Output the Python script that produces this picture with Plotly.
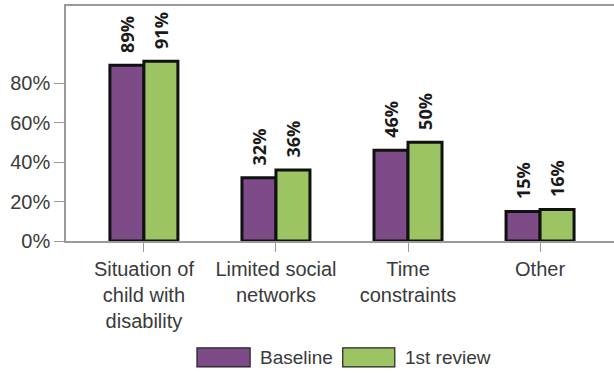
import plotly.graph_objects as go

categories = ["Situation of<br>child with<br>disability", "Limited social<br>networks", "Time<br>constraints", "Other"]
baseline = [89, 32, 46, 15]
first_review = [91, 36, 50, 16]
series_names = ["Baseline", "1st review"]
y_ticks = [0, 20, 40, 60, 80]
y_ticklabels = ["0%", "20%", "40%", "60%", "80%"]

purple = "#7D4B87"
green = "#9CC462"
text_color = "#3a3a3a"
axis_color = "#9a9a9a"

fig = go.Figure()
for name, vals, col in [(series_names[0], baseline, purple), (series_names[1], first_review, green)]:
    fig.add_trace(go.Bar(
        x=list(range(len(categories))), y=vals, name=name,
        marker=dict(color=col, line=dict(color="#111111", width=3)),
        text=["\u00a0\u00a0" + f"{v}%" for v in vals],
        textposition="outside", textangle=-90, cliponaxis=False,
        constraintext="none",
        textfont=dict(family="Open Sans", size=18, color="#1a1a1a", weight="bold"),
        showlegend=False, hoverinfo="skip",
    ))

fig.update_layout(
    width=614, height=373,
    margin=dict(l=66, r=0, t=6, b=132),
    paper_bgcolor="white", plot_bgcolor="white",
    barmode="group", bargap=0.485, bargroupgap=0,
    font=dict(family="Liberation Sans", size=20, color=text_color),
    xaxis=dict(
        range=[-0.59, 3.56], tickmode="array",
        tickvals=list(range(len(categories))), ticktext=categories,
        showline=True, linecolor=axis_color, linewidth=1.5, mirror=True,
        ticks="outside", ticklen=9, tickcolor=axis_color, tickwidth=1,
        showgrid=False, zeroline=False,
        tickfont=dict(family="Liberation Sans", size=20, color=text_color),
    ),
    yaxis=dict(
        range=[0, 119], tickmode="array", tickvals=y_ticks, ticktext=y_ticklabels,
        showline=True, linecolor=axis_color, linewidth=1.5,
        ticks="outside", ticklen=10, tickcolor=axis_color, tickwidth=1,
        showgrid=False, zeroline=False,
        tickfont=dict(family="Liberation Sans", size=20, color=text_color),
    ),
)

# custom legend with large swatches
legend_items = [(series_names[0], purple, 0.239, 0.336, 0.350), (series_names[1], green, 0.505, 0.600, 0.615)]
for name, col, x0, x1, xt in legend_items:
    fig.add_shape(type="rect", xref="paper", yref="paper", x0=x0, x1=x1, y0=-0.536, y1=-0.455,
                  fillcolor=col, line=dict(color="#222222", width=1.2))
    fig.add_annotation(xref="paper", yref="paper", x=xt, y=-0.496, text=name, showarrow=False,
                       xanchor="left", yanchor="middle",
                       font=dict(family="Liberation Sans", size=19, color=text_color))

fig.write_html("out.html", config={"displayModeBar": False},
               post_script="document.body.style.margin='0';document.body.style.overflow='hidden';")
